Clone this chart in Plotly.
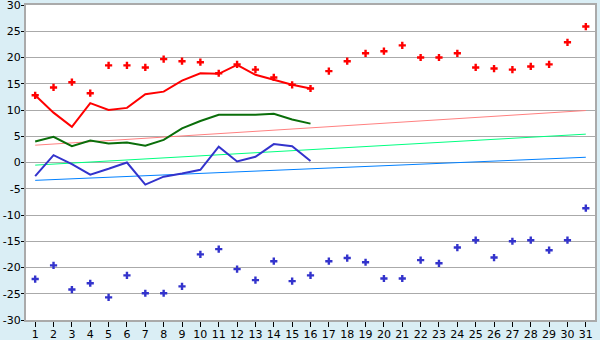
import plotly.graph_objects as go

days = list(range(1, 32))
days16 = list(range(1, 17))

max_pts = [12.8, 14.3, 15.3, 13.2, 18.5, 18.5, 18.1, 19.7, 19.3, 19.1, 17.0, 18.7, 17.7, 16.2, 14.8, 14.1,
           17.4, 19.3, 20.8, 21.2, 22.3, 20.0, 20.0, 20.8, 18.1, 17.9, 17.7, 18.3, 18.7, 22.9, 25.9]
min_pts = [-22.2, -19.6, -24.2, -23.0, -25.7, -21.5, -24.9, -24.9, -23.6, -17.5, -16.5, -20.3, -22.4, -18.8, -22.6, -21.5,
           -18.8, -18.2, -19.0, -22.1, -22.1, -18.6, -19.2, -16.2, -14.8, -18.1, -15.0, -14.8, -16.7, -14.8, -8.7]
red_line = [12.8, 9.5, 6.8, 11.3, 10.0, 10.4, 13.0, 13.5, 15.6, 17.0, 16.9, 18.6, 16.7, 15.7, 14.8, 14.1]
green_line = [4.0, 4.9, 3.1, 4.2, 3.6, 3.8, 3.2, 4.3, 6.5, 7.9, 9.1, 9.1, 9.1, 9.3, 8.2, 7.4]
blue_line = [-2.6, 1.4, -0.3, -2.3, -1.2, 0.0, -4.2, -2.7, -2.1, -1.4, 3.0, 0.2, 1.1, 3.5, 3.1, 0.3]

trend_x = [1, 31]
trend_pink = [3.3, 9.9]
trend_green = [-0.5, 5.4]
trend_blue = [-3.4, 1.0]

y_ticks = list(range(-30, 31, 5))

fig = go.Figure()
fig.add_trace(go.Scatter(x=trend_x, y=trend_pink, mode="lines", line=dict(color="#ff8080", width=1)))
fig.add_trace(go.Scatter(x=trend_x, y=trend_green, mode="lines", line=dict(color="#00ff80", width=1)))
fig.add_trace(go.Scatter(x=trend_x, y=trend_blue, mode="lines", line=dict(color="#0080ff", width=1)))
fig.add_trace(go.Scatter(x=days16, y=green_line, mode="lines", line=dict(color="#0a6e0a", width=2)))
fig.add_trace(go.Scatter(x=days16, y=blue_line, mode="lines", line=dict(color="#3333cc", width=2)))
fig.add_trace(go.Scatter(x=days16, y=red_line, mode="lines", line=dict(color="#ff0000", width=2)))
fig.add_trace(go.Scatter(x=days, y=max_pts, mode="markers",
                         marker=dict(symbol="cross", size=6, color="#ff0000", line=dict(width=0))))
fig.add_trace(go.Scatter(x=days, y=min_pts, mode="markers",
                         marker=dict(symbol="cross", size=6, color="#3333cc", line=dict(width=0))))

fig.update_layout(
    width=600, height=340,
    margin=dict(l=26, r=5, t=5, b=20),
    paper_bgcolor="#daeef5",
    plot_bgcolor="#ffffff",
    showlegend=False,
    font=dict(family="DejaVu Sans", size=11, color="#000000"),
)
fig.update_xaxes(
    range=[0.5, 31.5], tickvals=days, ticktext=[str(d) for d in days],
    showgrid=False, zeroline=False, automargin=False,
    showline=True, linecolor="#aaaaaa", linewidth=2, mirror=True,
    ticks="outside", ticklen=5, tickcolor="#000000", tickwidth=1,
    ticklabelstandoff=-2, ticklabeloverflow="allow",
)
fig.update_yaxes(
    range=[-30, 30], tickvals=y_ticks, ticktext=[str(v) for v in y_ticks],
    showgrid=True, gridcolor="#aaaaaa", gridwidth=1, zeroline=False, automargin=False,
    showline=True, linecolor="#aaaaaa", linewidth=2, mirror=True,
    ticks="outside", ticklen=3, tickcolor="#000000", tickwidth=1,
    ticklabelstandoff=-2, ticklabeloverflow="allow",
)

fig.write_html("out.html")
